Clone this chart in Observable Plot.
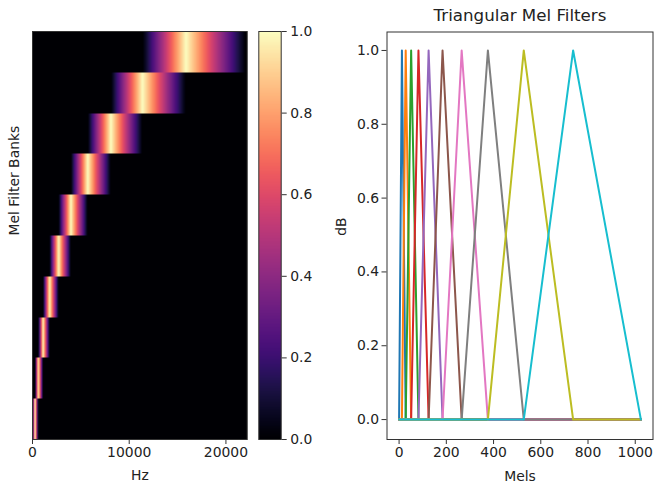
<!DOCTYPE html>
<html>
<head>
<meta charset="utf-8">
<script src="https://cdn.jsdelivr.net/npm/d3@7"></script>
<script src="https://cdn.jsdelivr.net/npm/@observablehq/plot@0.6"></script>
<style>
  html, body { margin: 0; padding: 0; background: #fff; }
  #chart { position: relative; width: 654px; height: 483px; overflow: hidden; }
  #chart svg { position: absolute; left: 0; top: 0; font-family: 'DejaVu Sans', sans-serif !important; font-size: 13.9px !important; }
</style>
</head>
<body>
<div id="chart"></div>
<script>
// ---- data ----
// FFT bin edges of the 10 triangular mel filters (start, peaks..., end)
const melBinPoints = [0, 12, 28, 51, 82, 125, 184, 265, 376, 528, 737, 1024];
const filterNames = ["F1", "F2", "F3", "F4", "F5", "F6", "F7", "F8", "F9", "F10"];
const filterColors = ["#1f77b4", "#ff7f0e", "#2ca02c", "#d62728", "#9467bd",
                      "#8c564b", "#e377c2", "#7f7f7f", "#bcbd22", "#17becf"];
const nyquistHz = 22050;
const lastBin = 1024;
const hzTicks = [0, 10000, 20000];
const melTicks = [0, 200, 400, 600, 800, 1000];
const dbTicks = [0, 0.2, 0.4, 0.6, 0.8, 1.0];
const colorbarTicks = [0, 0.2, 0.4, 0.6, 0.8, 1.0];

// ---- helpers ----
function filterValue(m, k) { // m: 0..9, k: bin (continuous)
  const a = melBinPoints[m], b = melBinPoints[m + 1], c = melBinPoints[m + 2];
  if (k < a || k > c) return 0;
  if (k <= b) return b === a ? 1 : (k - a) / (b - a);
  return c === b ? 1 : (c - k) / (c - b);
}

// table for the line chart: each filter runs along 0 across all bins
const lineData = [];
filterNames.forEach((name, m) => {
  const pts = [[0, 0], [melBinPoints[m], 0], [melBinPoints[m + 1], 1], [melBinPoints[m + 2], 0], [lastBin, 0]];
  for (const [bin, value] of pts) lineData.push({filter: name, bin, value});
});

const W = 654, H = 483;
const FS = 13.9, TITLE_FS = 16.7;
const ink = "#222";
const baseStyle = {fontFamily: "'DejaVu Sans', sans-serif", fontSize: FS + "px", color: ink, background: "transparent", overflow: "visible"};
const chart = document.getElementById("chart");

// ---- left: heatmap ----
const hzMax = 22200;
const heat = Plot.plot({
  width: W, height: H,
  marginLeft: 32, marginRight: W - 246.7, marginTop: 31, marginBottom: 44,
  style: baseStyle,
  x: {domain: [0, hzMax], axis: null},
  y: {domain: [0, 10], axis: null},
  color: {type: "linear", scheme: "magma", domain: [0, 1]},
  marks: [
    Plot.raster({x1: 0, x2: hzMax, y1: 0, y2: 10,
      fill: (x, y) => filterValue(Math.min(9, Math.floor(y)), x / nyquistHz * lastBin)}),
    Plot.frame({stroke: "#333", strokeWidth: 1}),
    Plot.axisX({ticks: hzTicks, tickSize: 5, tickPadding: 3, label: null, tickFormat: d3.format("d"), fontSize: FS, stroke: "#333", fill: ink}),
    Plot.text(["Hz"], {text: d => d, frameAnchor: "bottom", lineAnchor: "middle", dy: 36, fill: ink, fontSize: FS}),
    Plot.text(["Mel Filter Banks"], {text: d => d, frameAnchor: "left", lineAnchor: "middle", dx: -18, rotate: -90, fill: ink, fontSize: FS})
  ]
});
chart.appendChild(heat);

// ---- colorbar ----
const cbar = Plot.plot({
  width: W, height: H,
  marginLeft: 258.3, marginRight: W - 280.7, marginTop: 31, marginBottom: 44,
  style: baseStyle,
  x: {domain: [0, 1], axis: null},
  y: {domain: [0, 1], axis: null},
  color: {type: "linear", scheme: "magma", domain: [0, 1]},
  marks: [
    Plot.raster({x1: 0, x2: 1, y1: 0, y2: 1, fill: (x, y) => y}),
    Plot.frame({stroke: "#333", strokeWidth: 1}),
    Plot.axisY({anchor: "right", ticks: colorbarTicks, tickFormat: d3.format(".1f"), tickSize: 5, tickPadding: 4, label: null, fontSize: FS, stroke: "#333", fill: ink})
  ]
});
chart.appendChild(cbar);

// ---- right: triangular filters ----
const lines = Plot.plot({
  width: W, height: H,
  marginLeft: 386.5, marginRight: 1.5, marginTop: 31.5, marginBottom: 44,
  style: baseStyle,
  x: {domain: [-51.2, 1075.2], axis: null},
  y: {domain: [-0.054, 1.05], axis: null},
  color: {domain: filterNames, range: filterColors},
  marks: [
    Plot.line(lineData, {x: "bin", y: "value", z: "filter", stroke: "filter", strokeWidth: 2}),
    Plot.frame({stroke: "#333", strokeWidth: 1}),
    Plot.axisX({ticks: melTicks, tickSize: 5, tickPadding: 3, label: null, tickFormat: d3.format("d"), fontSize: FS, stroke: "#333", fill: ink}),
    Plot.axisY({ticks: dbTicks, tickFormat: d3.format(".1f"), tickSize: 5, tickPadding: 3, label: null, fontSize: FS, stroke: "#333", fill: ink}),
    Plot.text(["Triangular Mel Filters"], {text: d => d, frameAnchor: "top", lineAnchor: "middle", dy: -16, fontSize: TITLE_FS, fill: ink}),
    Plot.text(["Mels"], {text: d => d, frameAnchor: "bottom", lineAnchor: "middle", dy: 37, fill: ink, fontSize: FS}),
    Plot.text(["dB"], {text: d => d, frameAnchor: "left", lineAnchor: "middle", dx: -45.5, rotate: -90, fill: ink, fontSize: FS})
  ]
});
chart.appendChild(lines);
</script>
</body>
</html>
